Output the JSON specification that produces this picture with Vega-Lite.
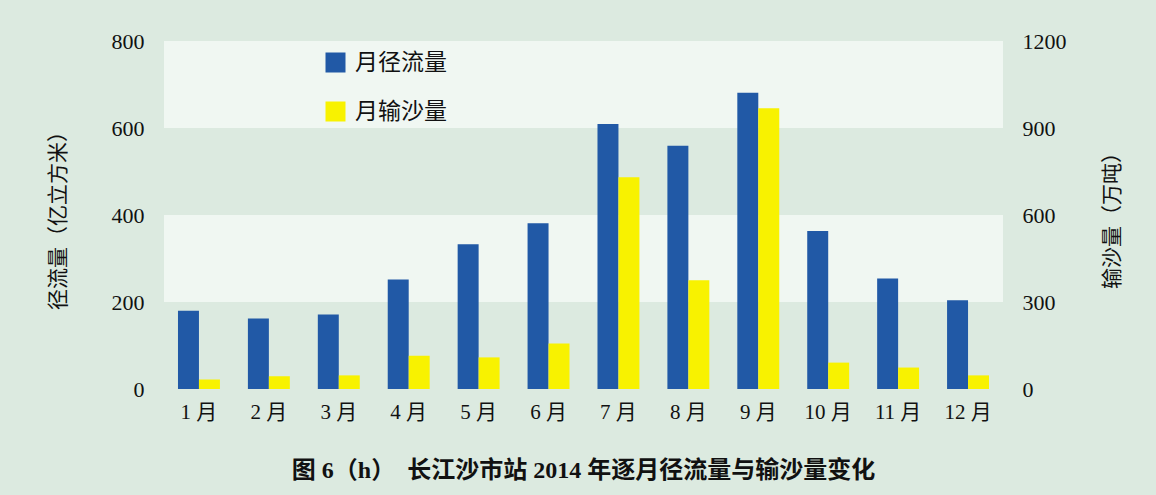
{
  "$schema": "https://vega.github.io/schema/vega-lite/v6.json",
  "autosize": {"type": "none"},
  "width": 839,
  "height": 348,
  "padding": {"left": 164, "top": 41, "right": 153, "bottom": 106},
  "background": "#dceae0",
  "config": {
    "view": {"stroke": null, "fill": "#dceae0"},
    "font": "Liberation Serif, Noto Sans CJK SC",
    "axis": {"grid": false, "domain": false, "ticks": false, "labelFont": "Liberation Serif, Noto Sans CJK SC", "labelColor": "#111", "titleColor": "#111", "titleFont": "Liberation Serif, Noto Sans CJK SC", "titleFontWeight": "normal"}
  },
  "title": {
    "text": "图 6（h）　长江沙市站 2014 年逐月径流量与输沙量变化",
    "orient": "bottom",
    "anchor": "middle",
    "fontSize": 24,
    "fontWeight": "bold",
    "font": "Liberation Serif, Noto Sans CJK SC",
    "color": "#111",
    "offset": 37,
    "dx": 0
  },
  "datasets": {
    "bands": [{"lo": 200, "hi": 400}, {"lo": 600, "hi": 800}],
    "bars": [
      {"month": "1 月", "series": "月径流量", "value": 180},
      {"month": "2 月", "series": "月径流量", "value": 162},
      {"month": "3 月", "series": "月径流量", "value": 171},
      {"month": "4 月", "series": "月径流量", "value": 252},
      {"month": "5 月", "series": "月径流量", "value": 333},
      {"month": "6 月", "series": "月径流量", "value": 381},
      {"month": "7 月", "series": "月径流量", "value": 609},
      {"month": "8 月", "series": "月径流量", "value": 559},
      {"month": "9 月", "series": "月径流量", "value": 681},
      {"month": "10 月", "series": "月径流量", "value": 363},
      {"month": "11 月", "series": "月径流量", "value": 254},
      {"month": "12 月", "series": "月径流量", "value": 204},
      {"month": "1 月", "series": "月输沙量", "value": 33},
      {"month": "2 月", "series": "月输沙量", "value": 44},
      {"month": "3 月", "series": "月输沙量", "value": 47},
      {"month": "4 月", "series": "月输沙量", "value": 115},
      {"month": "5 月", "series": "月输沙量", "value": 109},
      {"month": "6 月", "series": "月输沙量", "value": 157},
      {"month": "7 月", "series": "月输沙量", "value": 730},
      {"month": "8 月", "series": "月输沙量", "value": 375},
      {"month": "9 月", "series": "月输沙量", "value": 968},
      {"month": "10 月", "series": "月输沙量", "value": 91},
      {"month": "11 月", "series": "月输沙量", "value": 74},
      {"month": "12 月", "series": "月输沙量", "value": 47}
    ]
  },
  "layer": [
    {
      "data": {"name": "bands"},
      "mark": {"type": "rect", "color": "#f0f7f2"},
      "encoding": {
        "y": {"field": "lo", "type": "quantitative", "scale": {"domain": [0, 800], "nice": false}, "axis": null},
        "y2": {"field": "hi"}
      }
    },
    {
      "data": {"name": "bars"},
      "transform": [{"filter": "datum.series === '月径流量'"}],
      "mark": {"type": "bar"},
      "encoding": {
        "x": {"field": "month", "type": "nominal", "sort": null, "scale": {"paddingInner": 0.4, "paddingOuter": 0.2},
              "axis": {"title": null, "labelAngle": 0, "labelFontSize": 21, "labelPadding": 12, "labelBaseline": "top"}},
        "xOffset": {"field": "series", "type": "nominal", "scale": {"domain": ["月径流量", "月输沙量"]}},
        "y": {"field": "value", "type": "quantitative", "scale": {"domain": [0, 800], "nice": false},
              "axis": {"orient": "left", "values": [0, 200, 400, 600, 800], "format": "d", "labelFontSize": 22, "labelPadding": 20, "title": "径流量（亿立方米）", "titleFontSize": 21, "titlePadding": 43}},
        "color": {"field": "series", "type": "nominal",
                  "scale": {"domain": ["月径流量", "月输沙量"], "range": ["#2159a6", "#f8f200"]},
                  "legend": {"title": null, "orient": "none", "legendX": 160, "legendY": 10, "symbolType": "square", "symbolSize": 400, "symbolStrokeWidth": 0, "labelFontSize": 23, "labelFont": "Noto Sans CJK SC", "labelColor": "#111", "rowPadding": 25, "labelOffset": 8}}
      }
    },
    {
      "data": {"name": "bars"},
      "transform": [{"filter": "datum.series === '月输沙量'"}],
      "mark": {"type": "bar"},
      "encoding": {
        "x": {"field": "month", "type": "nominal", "sort": null},
        "xOffset": {"field": "series", "type": "nominal"},
        "y": {"field": "value", "type": "quantitative", "scale": {"domain": [0, 1200], "nice": false},
              "axis": {"orient": "right", "values": [0, 300, 600, 900, 1200], "format": "d", "labelFontSize": 22, "labelPadding": 19, "title": "输沙量（万吨）", "titleFontSize": 21, "titlePadding": 56, "titleAngle": -90}},
        "color": {"field": "series", "type": "nominal", "legend": null}
      }
    }
  ],
  "resolve": {"scale": {"y": "independent"}}
}
